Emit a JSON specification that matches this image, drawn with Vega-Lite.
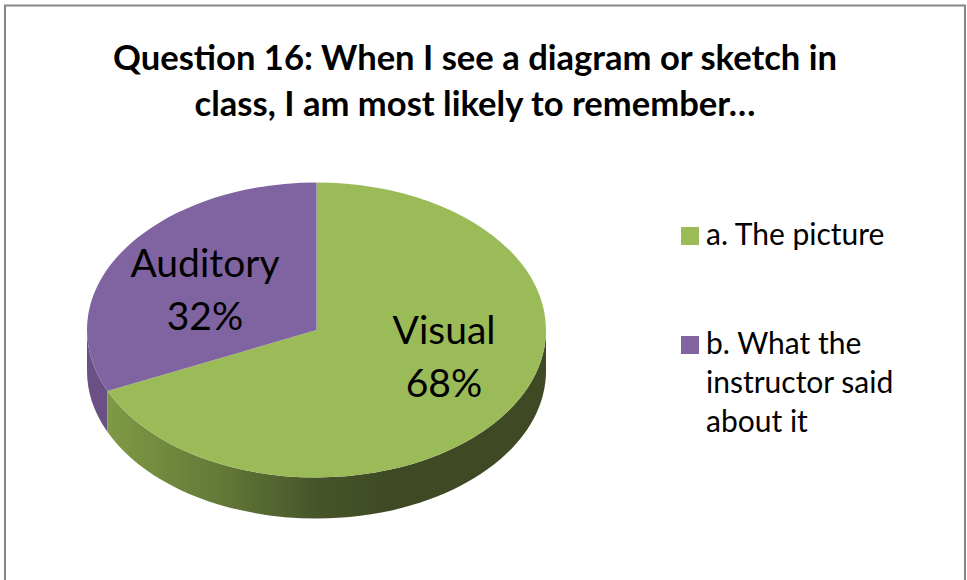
{
"$schema":"https://vega.github.io/schema/vega-lite/v6.json",
"width":459,"height":337,
"autosize":{"type":"none"},
"padding":{"left":87,"top":182,"right":421,"bottom":61},
"background":"white",
"config":{"view":{"stroke":null},"font":"Lato"},
"title":{"text":["Question 16: When I see a diagram or sketch in","class, I am most likely to remember…"],"font":"Lato","fontSize":34.6,"fontWeight":"bold","color":"#000000","anchor":"middle","frame":"group","dx":158.5,"offset":-122,"lineHeight":46},
"data":{"values":[
{"response":"a. The picture","name":"Visual","share":68},
{"response":"b. What the instructor said about it","name":"Auditory","share":32}
]},
"layer":[
{"data":{"values":[{"part":"frame"}]},
 "mark":{"type":"point","shape":"M-311.5,235V-345H648.5V235","size":4,"filled":false,"opacity":1,"stroke":"#868686","strokeWidth":2},
 "encoding":{}},
{"transform":[{"filter":"datum.name==='Auditory'"}],
 "mark":{"type":"point","shape":"M-229.5,-20.5C-229.5,0.52 -222.5,21.29 -209,40.4V81.4C-222.5,62.29 -229.5,41.52 -229.5,20.5Z","size":4,"filled":true,"opacity":1,"fill":"#6a5084"},
 "encoding":{}},
{"transform":[{"filter":"datum.name==='Visual'"}],
 "mark":{"type":"point","shape":"M229.5,-20.5C229.5,60.97 126.75,127 0,127C-90.06,127 -171.8,93.15 -209,40.4V81.4C-171.8,134.15 -90.06,168 0,168C126.75,168 229.5,101.97 229.5,20.5Z","size":4,"filled":true,"opacity":1,
  "fill":{"gradient":"linear","x1":0,"y1":0,"x2":1,"y2":0,"stops":[{"offset":0,"color":"#7f9a45"},{"offset":0.25,"color":"#647a38"},{"offset":0.48,"color":"#46542a"},{"offset":0.65,"color":"#3f4a24"},{"offset":1,"color":"#3f4a24"}]}},
 "encoding":{}},
{"mark":{"type":"point","filled":true,"size":4,"opacity":1},
 "encoding":{
  "color":{"field":"response","type":"nominal","scale":{"domain":["a. The picture","b. What the instructor said about it"],"range":["#9bbb59","#8064a2"]},
   "legend":{"title":null,"orient":"none","legendX":588,"legendY":39,"symbolType":"square","symbolSize":324,"symbolOpacity":1,"symbolStrokeWidth":0,"labelFont":"Lato","labelFontSize":30,"labelColor":"#000000","labelLimit":300,"labelOffset":1,"rowPadding":79,
    "labelExpr":"datum.value==='a. The picture' ? 'a. The picture' : ['b. What the','instructor said','about it']",
    "encode":{"labels":{"update":{"lineHeight":{"value":39}}}}}},
  "shape":{"field":"name","type":"nominal","scale":{"domain":["Visual","Auditory"],"range":["M0,-20.5V-168C126.75,-168 229.5,-101.97 229.5,-20.5C229.5,60.97 126.75,127 0,127C-90.06,127 -171.8,93.15 -209,40.4Z","M0,-20.5L-209,40.4C-222.5,21.29 -229.5,0.52 -229.5,-20.5C-229.5,-101.97 -126.75,-168 0,-168Z"]},"legend":null}
 }},
{"transform":[{"filter":"datum.name==='Visual'"},{"calculate":"datum.name+'\\n'+datum.share+'%'","as":"label"}],
 "mark":{"type":"text","font":"Lato","fontSize":39,"color":"#000000","lineBreak":"\n","lineHeight":53,"align":"center","baseline":"middle","dx":127.5,"dy":-19},
 "encoding":{"text":{"field":"label"}}},
{"transform":[{"filter":"datum.name==='Auditory'"},{"calculate":"datum.name+'\\n'+datum.share+'%'","as":"label"}],
 "mark":{"type":"text","font":"Lato","fontSize":39,"color":"#000000","lineBreak":"\n","lineHeight":53,"align":"center","baseline":"middle","dx":-111.5,"dy":-86},
 "encoding":{"text":{"field":"label"}}}
]
}
